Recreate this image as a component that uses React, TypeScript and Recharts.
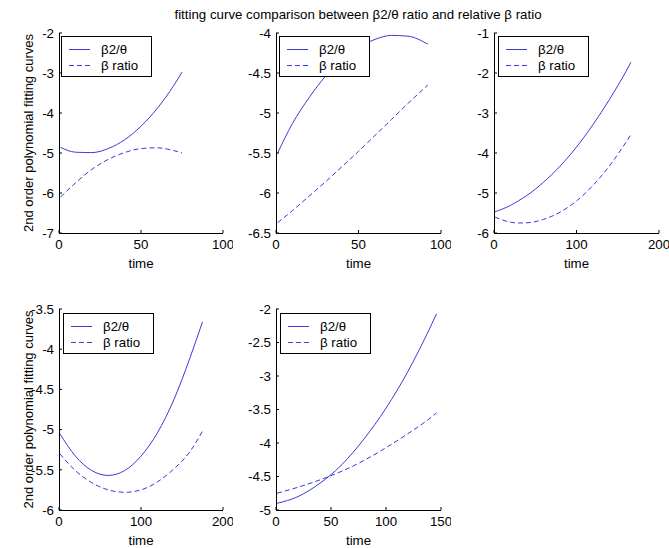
import React from 'react';
import { LineChart, Line, XAxis, YAxis, Legend } from 'recharts';

const FONT = '"Liberation Sans", Arial, Helvetica, sans-serif';
const BLUE = '#3a3ad6';
const FS = 13.3;

const title = 'fitting curve comparison between β2/θ ratio and relative β ratio';
const yLabel = '2nd order polynomial fitting curves';
const xLabel = 'time';
const fitName = 'β2/θ';
const ratioName = 'β ratio';

// panel 1 (top left)
const t1 = [1, 10, 20, 30, 40, 50, 60, 70, 75];
const fit1 = [-4.86, -4.98, -4.99, -4.89, -4.67, -4.33, -3.88, -3.31, -2.98];
const ratio1 = [-6.1, -5.75, -5.41, -5.16, -4.99, -4.89, -4.87, -4.94, -5.0];
const xTicks1 = [0, 50, 100];
const yTicks1 = [-7, -6, -5, -4, -3, -2];

// panel 2 (top middle)
const t2 = [1, 10, 20, 30, 40, 50, 60, 70, 80, 92];
const fit2 = [-5.5, -5.13, -4.81, -4.54, -4.33, -4.18, -4.08, -4.03, -4.04, -4.14];
const ratio2 = [-6.37, -6.22, -6.04, -5.86, -5.67, -5.48, -5.28, -5.08, -4.88, -4.65];
const xTicks2 = [0, 50, 100];
const yTicks2 = [-6.5, -6, -5.5, -5, -4.5, -4];

// panel 3 (top right)
const t3 = [1, 20, 30, 40, 60, 80, 100, 120, 140, 160, 166];
const fit3 = [-5.47, -5.31, -5.19, -5.06, -4.73, -4.33, -3.85, -3.29, -2.66, -1.96, -1.73];
const ratio3 = [-5.6, -5.73, -5.75, -5.745, -5.66, -5.48, -5.2, -4.81, -4.32, -3.73, -3.54];
const xTicks3 = [0, 100, 200];
const yTicks3 = [-6, -5, -4, -3, -2, -1];

// panel 4 (bottom left)
const t4 = [1, 20, 40, 60, 80, 100, 120, 140, 160, 175];
const fit4 = [-5.05, -5.33, -5.51, -5.57, -5.51, -5.33, -5.04, -4.63, -4.1, -3.66];
const ratio4 = [-5.3, -5.51, -5.66, -5.75, -5.78, -5.75, -5.65, -5.49, -5.27, -5.02];
const xTicks4 = [0, 100, 200];
const yTicks4 = [-6, -5.5, -5, -4.5, -4, -3.5];

// panel 5 (bottom middle)
const t5 = [1, 20, 40, 48, 60, 80, 100, 120, 140, 146];
const fit5 = [-4.9, -4.8, -4.6, -4.5, -4.32, -3.94, -3.48, -2.93, -2.28, -2.07];
const ratio5 = [-4.75, -4.66, -4.55, -4.5, -4.42, -4.26, -4.07, -3.86, -3.63, -3.55];
const xTicks5 = [0, 50, 100, 150];
const yTicks5 = [-5, -4.5, -4, -3.5, -3, -2.5, -2];

const YW = 60;
const MT = 10;
const MR = 10;
const XH = 40;

const axisStyle = { stroke: '#000', shapeRendering: 'crispEdges' };
const tickStyle = { fill: '#000', fontSize: FS, fontFamily: FONT };

const LegendBox = ({ payload }: any) => {
  const items = (payload || []).slice().sort((a: any, b: any) => (a.value === fitName ? -1 : b.value === fitName ? 1 : 0));
  return (
    <svg width={91} height={41} style={{ display: 'block' }}>
      <rect x={0.5} y={0.5} width={90} height={40} fill="#fff" stroke="#000" shapeRendering="crispEdges" />
      {items.map((entry: any, i: number) => {
        const y = 13.5 + i * 16;
        const dash = entry.payload && entry.payload.strokeDasharray;
        return (
          <g key={entry.value}>
            <line x1={8} x2={29} y1={y} y2={y} stroke={entry.color} strokeDasharray={dash} />
            <text x={40} y={y + 4.7} fontSize={FS} fontFamily={FONT} fill="#000">
              {entry.value}
            </text>
          </g>
        );
      })}
    </svg>
  );
};

interface PanelProps {
  left: number;
  top: number;
  w: number;
  h: number;
  t: number[];
  fit: number[];
  ratio: number[];
  xTicks: number[];
  yTicks: number[];
  legendDx: number;
  legendDy: number;
  showYLabel?: boolean;
}

const Panel: React.FC<PanelProps> = (p) => {
  const rows = p.t.map((t, i) => ({ t, fit: p.fit[i], ratio: p.ratio[i] }));
  const xDomain = [p.xTicks[0], p.xTicks[p.xTicks.length - 1]];
  const yDomain = [p.yTicks[0], p.yTicks[p.yTicks.length - 1]];
  return (
    <div style={{ position: 'absolute', left: p.left - YW, top: p.top - MT }}>
      <LineChart
        width={YW + p.w + MR}
        height={MT + p.h + XH}
        data={rows}
        margin={{ top: MT, right: MR, left: 0, bottom: 0 }}
      >
        <XAxis
          xAxisId="b"
          type="number"
          dataKey="t"
          domain={xDomain}
          ticks={p.xTicks}
          allowDataOverflow
          height={XH}
          axisLine={axisStyle}
          tickLine={{ stroke: '#000' }}
          tickSize={-3}
          tickMargin={10}
          tick={tickStyle}
          label={{ value: xLabel, position: 'insideBottom', offset: 5, fill: '#000', fontSize: FS, fontFamily: FONT }}
        />
        <XAxis
          xAxisId="t"
          orientation="top"
          type="number"
          dataKey="t"
          domain={xDomain}
          ticks={p.xTicks}
          allowDataOverflow
          height={0}
          axisLine={axisStyle}
          tickLine={{ stroke: '#000' }}
          tickSize={-3}
          tick={false}
        />
        <YAxis
          yAxisId="l"
          type="number"
          domain={yDomain}
          ticks={p.yTicks}
          allowDataOverflow
          width={YW}
          axisLine={axisStyle}
          tickLine={{ stroke: '#000' }}
          tickSize={-3}
          tickMargin={8}
          tick={tickStyle}
          label={
            p.showYLabel
              ? { value: yLabel, angle: -90, position: 'center', dx: -1, fill: '#000', fontSize: 13, fontFamily: FONT }
              : undefined
          }
        />
        <YAxis
          yAxisId="r"
          orientation="right"
          type="number"
          domain={yDomain}
          ticks={p.yTicks}
          allowDataOverflow
          width={0}
          axisLine={axisStyle}
          tickLine={{ stroke: '#000' }}
          tickSize={-3}
          tick={false}
        />
        <Legend
          layout="horizontal"
          verticalAlign="middle"
          align="center"
          itemSorter="dataKey"
          wrapperStyle={{ left: YW + p.legendDx, top: MT + p.legendDy, width: 91, height: 41 }}
          content={(props: any) => <LegendBox payload={props.payload} />}
        />
        <Line
          xAxisId="b"
          yAxisId="l"
          type="monotone"
          dataKey="fit"
          name={fitName}
          stroke={BLUE}
          strokeWidth={1}
          dot={false}
          isAnimationActive={false}
        />
        <Line
          xAxisId="b"
          yAxisId="l"
          type="monotone"
          dataKey="ratio"
          name={ratioName}
          stroke={BLUE}
          strokeWidth={1}
          strokeDasharray="5 3"
          dot={false}
          isAnimationActive={false}
        />
      </LineChart>
    </div>
  );
};

export default function App() {
  return (
    <div
      style={{
        position: 'absolute',
        left: 0,
        top: 0,
        width: 669,
        height: 548,
        background: '#fff',
        fontFamily: FONT,
        overflow: 'hidden',
      }}
    >
      <div
        style={{
          position: 'absolute',
          left: 58,
          top: 7,
          width: 600,
          textAlign: 'center',
          fontSize: FS,
          lineHeight: '15px',
          color: '#000',
        }}
      >
        {title}
      </div>
      <Panel left={59} top={33} w={164} h={200} t={t1} fit={fit1} ratio={ratio1} xTicks={xTicks1} yTicks={yTicks1} legendDx={2} legendDy={3} showYLabel />
      <Panel left={276} top={33} w={165} h={200} t={t2} fit={fit2} ratio={ratio2} xTicks={xTicks2} yTicks={yTicks2} legendDx={3} legendDy={3} />
      <Panel left={494} top={33} w={165} h={200} t={t3} fit={fit3} ratio={ratio3} xTicks={xTicks3} yTicks={yTicks3} legendDx={4} legendDy={3} />
      <Panel left={59} top={309} w={164} h={201} t={t4} fit={fit4} ratio={ratio4} xTicks={xTicks4} yTicks={yTicks4} legendDx={4} legendDy={4} showYLabel />
      <Panel left={276} top={309} w={165} h={201} t={t5} fit={fit5} ratio={ratio5} xTicks={xTicks5} yTicks={yTicks5} legendDx={4} legendDy={4} />
    </div>
  );
}
